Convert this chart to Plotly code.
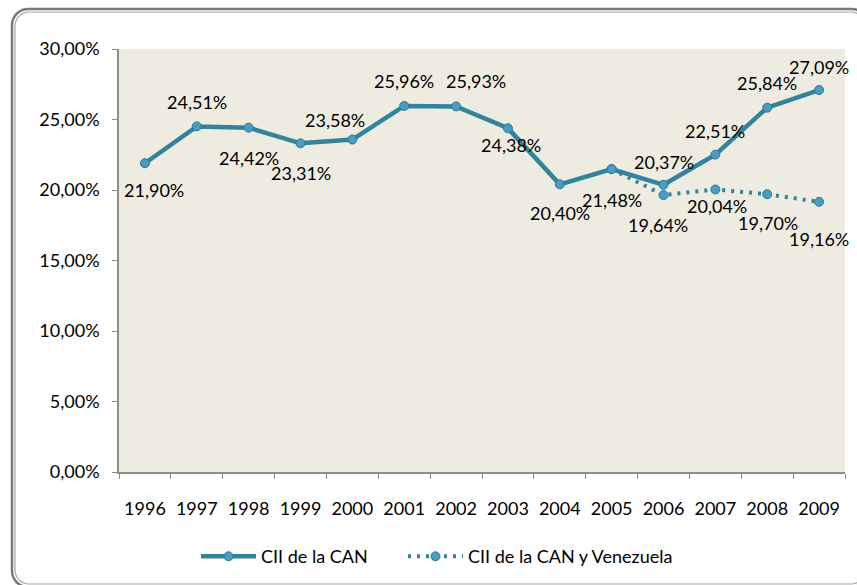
import math
import plotly.graph_objects as go

years = ["1996", "1997", "1998", "1999", "2000", "2001", "2002", "2003",
         "2004", "2005", "2006", "2007", "2008", "2009"]
cii_can = [21.90, 24.51, 24.42, 23.31, 23.58, 25.96, 25.93, 24.38,
           20.40, 21.48, 20.37, 22.51, 25.84, 27.09]
ven_years = ["2005", "2006", "2007", "2008", "2009"]
cii_can_ven = [21.48, 19.64, 20.04, 19.70, 19.16]
ven_labelled = [False, True, True, True, True]

y_ticks = [0, 5, 10, 15, 20, 25, 30]
y_tick_text = ["0,00%", "5,00%", "10,00%", "15,00%", "20,00%", "25,00%", "30,00%"]

# label offsets (style only)
can_dx = [9, 0, 0, 0, -17, 0, 20, 3, 0, 0, 0, 0, 0, 0]
can_dy = [27, -24, 30, 30, -20, -25, -25, 17, 29, 31, -23, -24, -25, -23]
ven_dx = [0, -6, 2, 1, 0]
ven_dy = [0, 30, 17, 29, 37]

LINE = "#31849B"
MFILL = "#4A9CC3"
MLINE = "#2C7A92"
FONT = "Lato"
FS = 18

W, H = 857, 585
L, R, T, B = 119, 12, 49, 113
PW, PH = W - L - R, H - T - B


def fmt(v):
    return f"{v:.2f}".replace(".", ",") + "%"


fig = go.Figure()
fig.add_trace(go.Scatter(
    x=years, y=cii_can, mode="lines+markers", name="CII de la CAN", legend="legend",
    line=dict(color=LINE, width=4.5),
    marker=dict(symbol="circle", size=9, color=MFILL, line=dict(color=MLINE, width=1)),
))
fig.add_trace(go.Scatter(
    x=ven_years, y=cii_can_ven, mode="lines+markers", name="CII de la CAN y Venezuela",
    legend="legend2",
    line=dict(color=LINE, width=4, dash="3px,6px"),
    marker=dict(symbol="circle", size=9, color=MFILL, line=dict(color=MLINE, width=1)),
))

for i, (x, v) in enumerate(zip(years, cii_can)):
    fig.add_annotation(x=years.index(x), y=v, xref="x", yref="y", text=fmt(v),
                       showarrow=False, xshift=can_dx[i], yshift=-can_dy[i],
                       font=dict(family=FONT, size=FS, color="black"))
for i, (x, v) in enumerate(zip(ven_years, cii_can_ven)):
    if ven_labelled[i]:
        fig.add_annotation(x=years.index(x), y=v, xref="x", yref="y", text=fmt(v),
                           showarrow=False, xshift=ven_dx[i], yshift=-ven_dy[i],
                           font=dict(family=FONT, size=FS, color="black"))


def px2paper(px, py):
    return (px - L) / PW, (H - B - py) / PH


def rounded_path(x0, y0, x1, y1, r, n=8):
    pts = []
    corners = [(x1 - r, y0 + r, -90, 0), (x1 - r, y1 - r, 0, 90),
               (x0 + r, y1 - r, 90, 180), (x0 + r, y0 + r, 180, 270)]
    for cx, cy, a0, a1 in corners:
        for k in range(n + 1):
            a = math.radians(a0 + (a1 - a0) * k / n)
            pts.append(px2paper(cx + r * math.cos(a), cy + r * math.sin(a)))
    s = "M " + " L ".join(f"{a:.5f},{b:.5f}" for a, b in pts) + " Z"
    return s


fig.add_shape(type="path", xref="paper", yref="paper", path=rounded_path(12, 9, 868, 587, 16),
              line=dict(color="#7a7a7a", width=2.5), layer="below")
fig.add_shape(type="path", xref="paper", yref="paper", path=rounded_path(15, 12, 865, 584, 14),
              line=dict(color="#a8a8a8", width=1.2), layer="below")

legend_common = dict(orientation="h", xanchor="left", y=-0.2, yanchor="middle",
                     font=dict(family=FONT, size=FS), itemwidth=55,
                     bgcolor="rgba(0,0,0,0)")

fig.update_layout(
    width=W, height=H,
    margin=dict(l=L, r=R, t=T, b=B, autoexpand=False),
    paper_bgcolor="white",
    plot_bgcolor="#EEECE1",
    font=dict(family=FONT, size=FS, color="black"),
    showlegend=True,
    legend=dict(x=(196 - L) / PW, **legend_common),
    legend2=dict(x=(403 - L) / PW, **legend_common),
    xaxis=dict(type="category", categoryorder="array", categoryarray=years,
               showgrid=False, showline=True, linecolor="#8c8c8c", linewidth=1.5,
               ticks="outside", ticklen=5, tickcolor="#8c8c8c", tickson="boundaries",
               ticklabelstandoff=20, range=[-0.5, 13.5], zeroline=False,
               tickfont=dict(family=FONT, size=FS)),
    yaxis=dict(range=[0, 30], tickvals=y_ticks, ticktext=y_tick_text,
               showgrid=False, showline=True, linecolor="#8c8c8c", linewidth=1.5,
               ticks="outside", ticklen=5, tickcolor="#8c8c8c", zeroline=False,
               ticklabelstandoff=9, tickfont=dict(family=FONT, size=FS)),
)

fig.write_html("out.html", config={"displayModeBar": False},
               post_script="document.body.style.margin='0';document.body.style.padding='0';")
